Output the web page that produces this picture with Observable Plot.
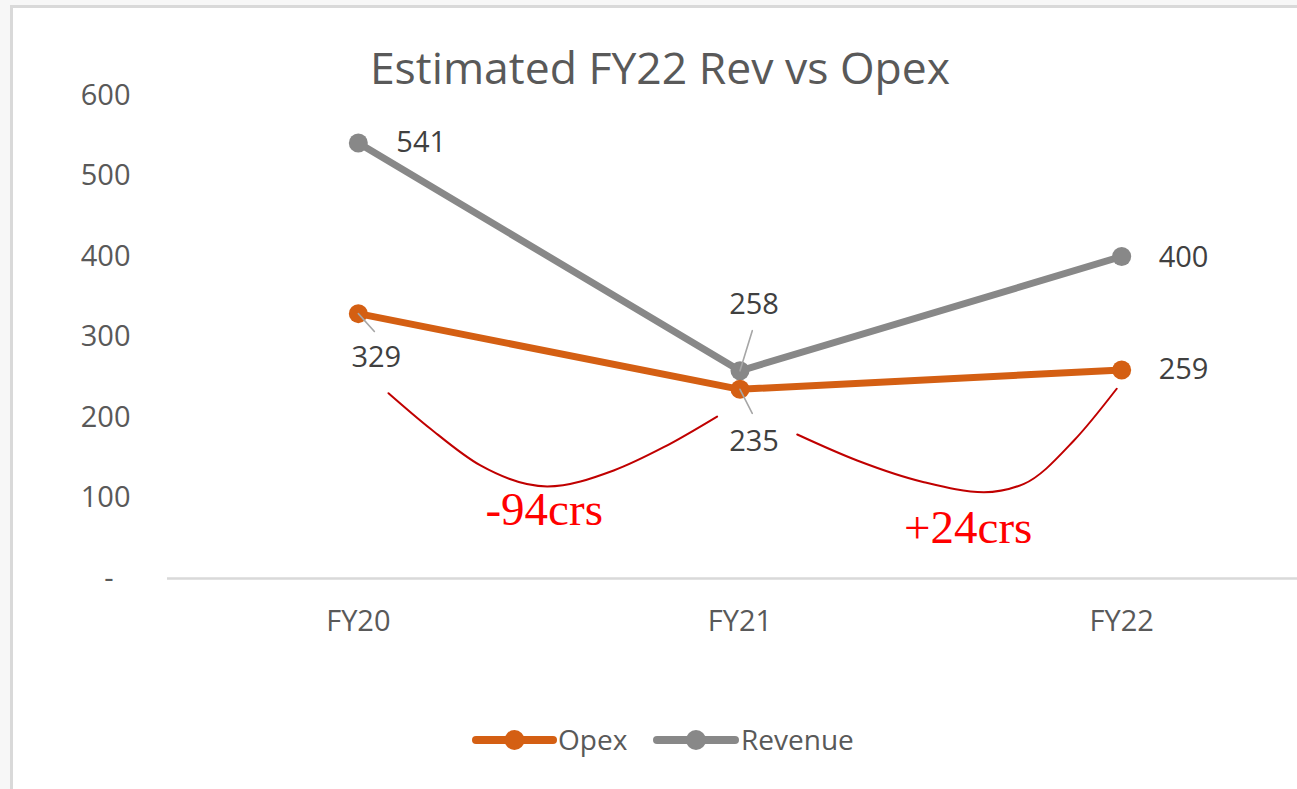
<!DOCTYPE html>
<html>
<head>
<meta charset="utf-8">
<script src="https://cdn.jsdelivr.net/npm/d3@7"></script>
<script src="https://cdn.jsdelivr.net/npm/@observablehq/plot@0.6"></script>
<style>
  html, body { margin: 0; padding: 0; width: 1297px; height: 789px; overflow: hidden; background: #f7f7f7; font-family: "Open Sans", sans-serif; }
  #frame { position: absolute; left: 10px; top: 5px; width: 1310px; height: 810px; border: 3px solid #d9d9d9; background: #ffffff; }
  #chart { position: absolute; left: 0; top: 0; }
  #title { position: absolute; left: 660px; top: 44px; transform: translateX(-50%); white-space: nowrap;
           font: 44.5px/45px "Open Sans", sans-serif; color: #595959; }
  #legend { position: absolute; left: 0; top: 710px; }
</style>
</head>
<body>
<div id="frame"></div>
<div id="chart"></div>
<div id="title">Estimated FY22 Rev vs Opex</div>
<svg id="legend" width="1297" height="60"></svg>
<script>
// ---- data ----
const categories = ["FY20", "FY21", "FY22"];
const seriesNames = ["Opex", "Revenue"];
const opex = [329, 235, 259];
const revenue = [541, 258, 400];
const yTicks = [0, 100, 200, 300, 400, 500, 600];

// annotation brackets (data coordinates: category index, value)
const bracket1X = [0.079, 0.189, 0.320, 0.495, 0.669, 0.800, 0.940];
const bracket1Y = [230.2, 186.0, 140.4, 114.3, 134.2, 163.1, 201.2];
const bracket2X = [1.150, 1.307, 1.482, 1.639, 1.744, 1.875, 1.987];
const bracket2Y = [178.9, 146.6, 119.6, 107.2, 117.6, 171.4, 235.7];
const noteTexts = ["-94crs", "+24crs"];
const noteX = [0.487, 1.598];
const noteY = [85.7, 62.7];

// ---- styling ----
const colors = {Opex: "#D45F13", Revenue: "#888888"};
const labelColor = "#404040";
const axisColor = "#595959";

const rows = [
  ...opex.map((v, i) => ({series: "Opex", i, value: v})),
  ...revenue.map((v, i) => ({series: "Revenue", i, value: v}))
];
const bracket1 = bracket1X.map((x, k) => ({x, y: bracket1Y[k]}));
const bracket2 = bracket2X.map((x, k) => ({x, y: bracket2Y[k]}));
const notes = noteTexts.map((t, k) => ({t, x: noteX[k], y: noteY[k]}));

// data label placement per point
const labelPlacement = {
  "Revenue-0": {dx: 38, dy: 0, textAnchor: "start"},
  "Revenue-1": {dx: 14, dy: -66, textAnchor: "middle"},
  "Revenue-2": {dx: 37, dy: 1, textAnchor: "start"},
  "Opex-0": {dx: 18, dy: 44, textAnchor: "middle"},
  "Opex-1": {dx: 14, dy: 52, textAnchor: "middle"},
  "Opex-2": {dx: 37, dy: 0, textAnchor: "start"}
};
// leader lines from point toward label
const leaders = {
  "Opex-0": {length: 24, rotate: 138},
  "Revenue-1": {length: 42, rotate: 17},
  "Opex-1": {length: 27, rotate: 153}
};
const lineShape = {draw(context, l) { context.moveTo(0, 0); context.lineTo(0, -l); }};

const labelMarks = rows.map(r => {
  const p = labelPlacement[`${r.series}-${r.i}`];
  return Plot.text([r], {x: "i", y: "value", text: d => String(d.value), fill: labelColor, fontSize: 29, ...p});
});
const leaderMarks = rows.filter(r => leaders[`${r.series}-${r.i}`]).map(r => {
  const p = leaders[`${r.series}-${r.i}`];
  return Plot.vector([r], {x: "i", y: "value", anchor: "start", shape: lineShape, stroke: "#a6a6a6", strokeWidth: 1.6, ...p});
});

const order = ["Revenue", "Opex"]; // draw Revenue beneath Opex
const seriesMarks = order.flatMap(s => {
  const d = rows.filter(r => r.series === s);
  return [
    Plot.line(d, {x: "i", y: "value", stroke: colors[s], strokeWidth: 7, strokeLinejoin: "round", strokeLinecap: "round"}),
    Plot.dot(d, {x: "i", y: "value", r: 9.5, fill: colors[s], stroke: "none"})
  ];
});

const chart = Plot.plot({
  width: 1297,
  height: 789,
  marginTop: 95,
  marginBottom: 211,
  marginLeft: 167,
  marginRight: -15,
  style: {fontFamily: "Open Sans, sans-serif", background: "transparent", overflow: "visible"},
  x: {type: "linear", domain: [-0.5, 2.5]},
  y: {domain: [0, 600]},
  marks: [
    Plot.ruleY([0], {stroke: "#d9d9d9", strokeWidth: 2.5}),
    Plot.axisY(yTicks.filter(t => t !== 0), {tickSize: 0, tickPadding: 37, fontSize: 29, fill: axisColor, label: null}),
    Plot.axisY([0], {tickSize: 0, tickPadding: 54, fontSize: 29, fill: axisColor, label: null, tickFormat: () => "-"}),
    Plot.axisX([0, 1, 2], {tickSize: 0, tickPadding: 32, fontSize: 29, fill: axisColor, label: null, tickFormat: i => categories[i]}),
    ...seriesMarks,
    ...leaderMarks,
    ...labelMarks,
    Plot.line(bracket1, {x: "x", y: "y", curve: "monotone-x", stroke: "#C00000", strokeWidth: 2}),
    Plot.line(bracket2, {x: "x", y: "y", curve: "monotone-x", stroke: "#C00000", strokeWidth: 2}),
    Plot.text(notes, {x: "x", y: "y", text: "t", fill: "#FF0000", fontSize: 47, fontFamily: "Liberation Serif, Times New Roman, serif"})
  ]
});
document.getElementById("chart").appendChild(chart);

// legend
const legend = d3.select("#legend");
const items = [
  {name: seriesNames[0], x0: 476, x1: 553, tx: 558},
  {name: seriesNames[1], x0: 657, x1: 735, tx: 741}
];
const cy = 30;
for (const it of items) {
  const c = colors[it.name];
  legend.append("line").attr("x1", it.x0).attr("x2", it.x1).attr("y1", cy).attr("y2", cy)
    .attr("stroke", c).attr("stroke-width", 8).attr("stroke-linecap", "round");
  legend.append("circle").attr("cx", (it.x0 + it.x1) / 2).attr("cy", cy).attr("r", 10).attr("fill", c);
  legend.append("text").attr("x", it.tx).attr("y", cy).attr("dy", "0.35em")
    .attr("font-family", "Open Sans, sans-serif").attr("font-size", 28).attr("fill", axisColor).text(it.name);
}
</script>
</body>
</html>
